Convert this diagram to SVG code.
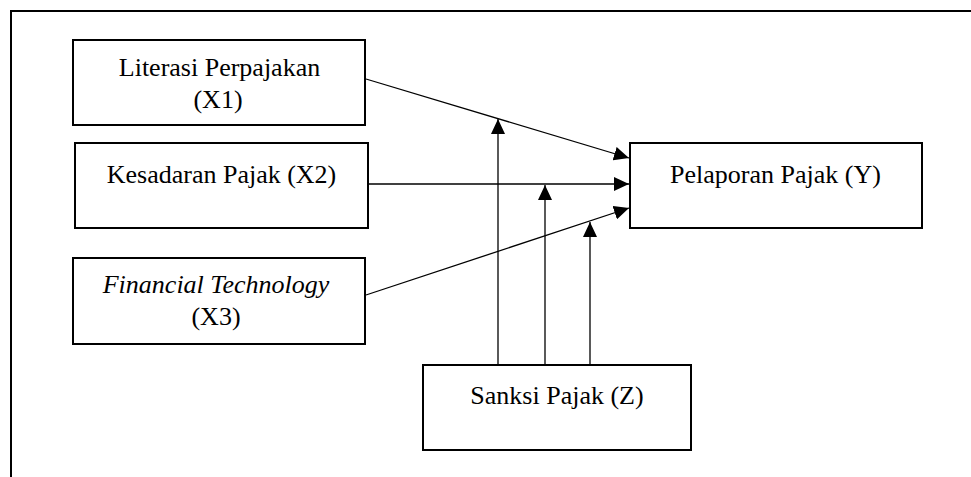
<svg xmlns="http://www.w3.org/2000/svg" width="971" height="477" viewBox="0 0 971 477">
<defs>
<marker id="arr" viewBox="0 0 15 14" refX="15" refY="7" markerWidth="15" markerHeight="14" markerUnits="userSpaceOnUse" orient="auto">
<path d="M0,0 L15,7 L0,14 z" fill="#000"/>
</marker>
<style>
.box{fill:#fff;stroke:#000;stroke-width:2}
.t{font-family:"Liberation Serif","Times New Roman",serif;font-size:26px;fill:#000;text-anchor:middle}
.c{stroke:#000;stroke-width:1.3;fill:none;marker-end:url(#arr)}
</style>
</defs>
<rect width="971" height="477" fill="#fff"/>
<path d="M11,477 L11,11 L971,11" fill="none" stroke="#000" stroke-width="2"/>
<g id="X1">
<rect class="box" x="73" y="40" width="292" height="85"/>
<text class="t" x="219.5" y="76">Literasi Perpajakan</text>
<text class="t" x="218" y="108">(X1)</text>
</g>
<g id="X2">
<rect class="box" x="75" y="143" width="293" height="85"/>
<text class="t" x="221.5" y="183">Kesadaran Pajak (X2)</text>
</g>
<g id="X3">
<rect class="box" x="73" y="258" width="292" height="86"/>
<text class="t" x="216" y="293" font-style="italic">Financial Technology</text>
<text class="t" x="216" y="325">(X3)</text>
</g>
<g id="Y">
<rect class="box" x="630" y="143" width="292" height="85"/>
<text class="t" x="775.5" y="183">Pelaporan Pajak (Y)</text>
</g>
<g id="Z">
<rect class="box" x="423" y="365" width="268" height="85"/>
<text class="t" x="557" y="404">Sanksi Pajak (Z)</text>
</g>
<g id="connectors">
<line class="c" x1="366" y1="79" x2="629" y2="158"/>
<line class="c" x1="369" y1="184" x2="629" y2="184"/>
<line class="c" x1="366" y1="295" x2="629" y2="208"/>
<line class="c" x1="498" y1="364" x2="498" y2="119"/>
<line class="c" x1="545" y1="364" x2="545" y2="185"/>
<line class="c" x1="590" y1="364" x2="590" y2="222"/>
</g>
</svg>
